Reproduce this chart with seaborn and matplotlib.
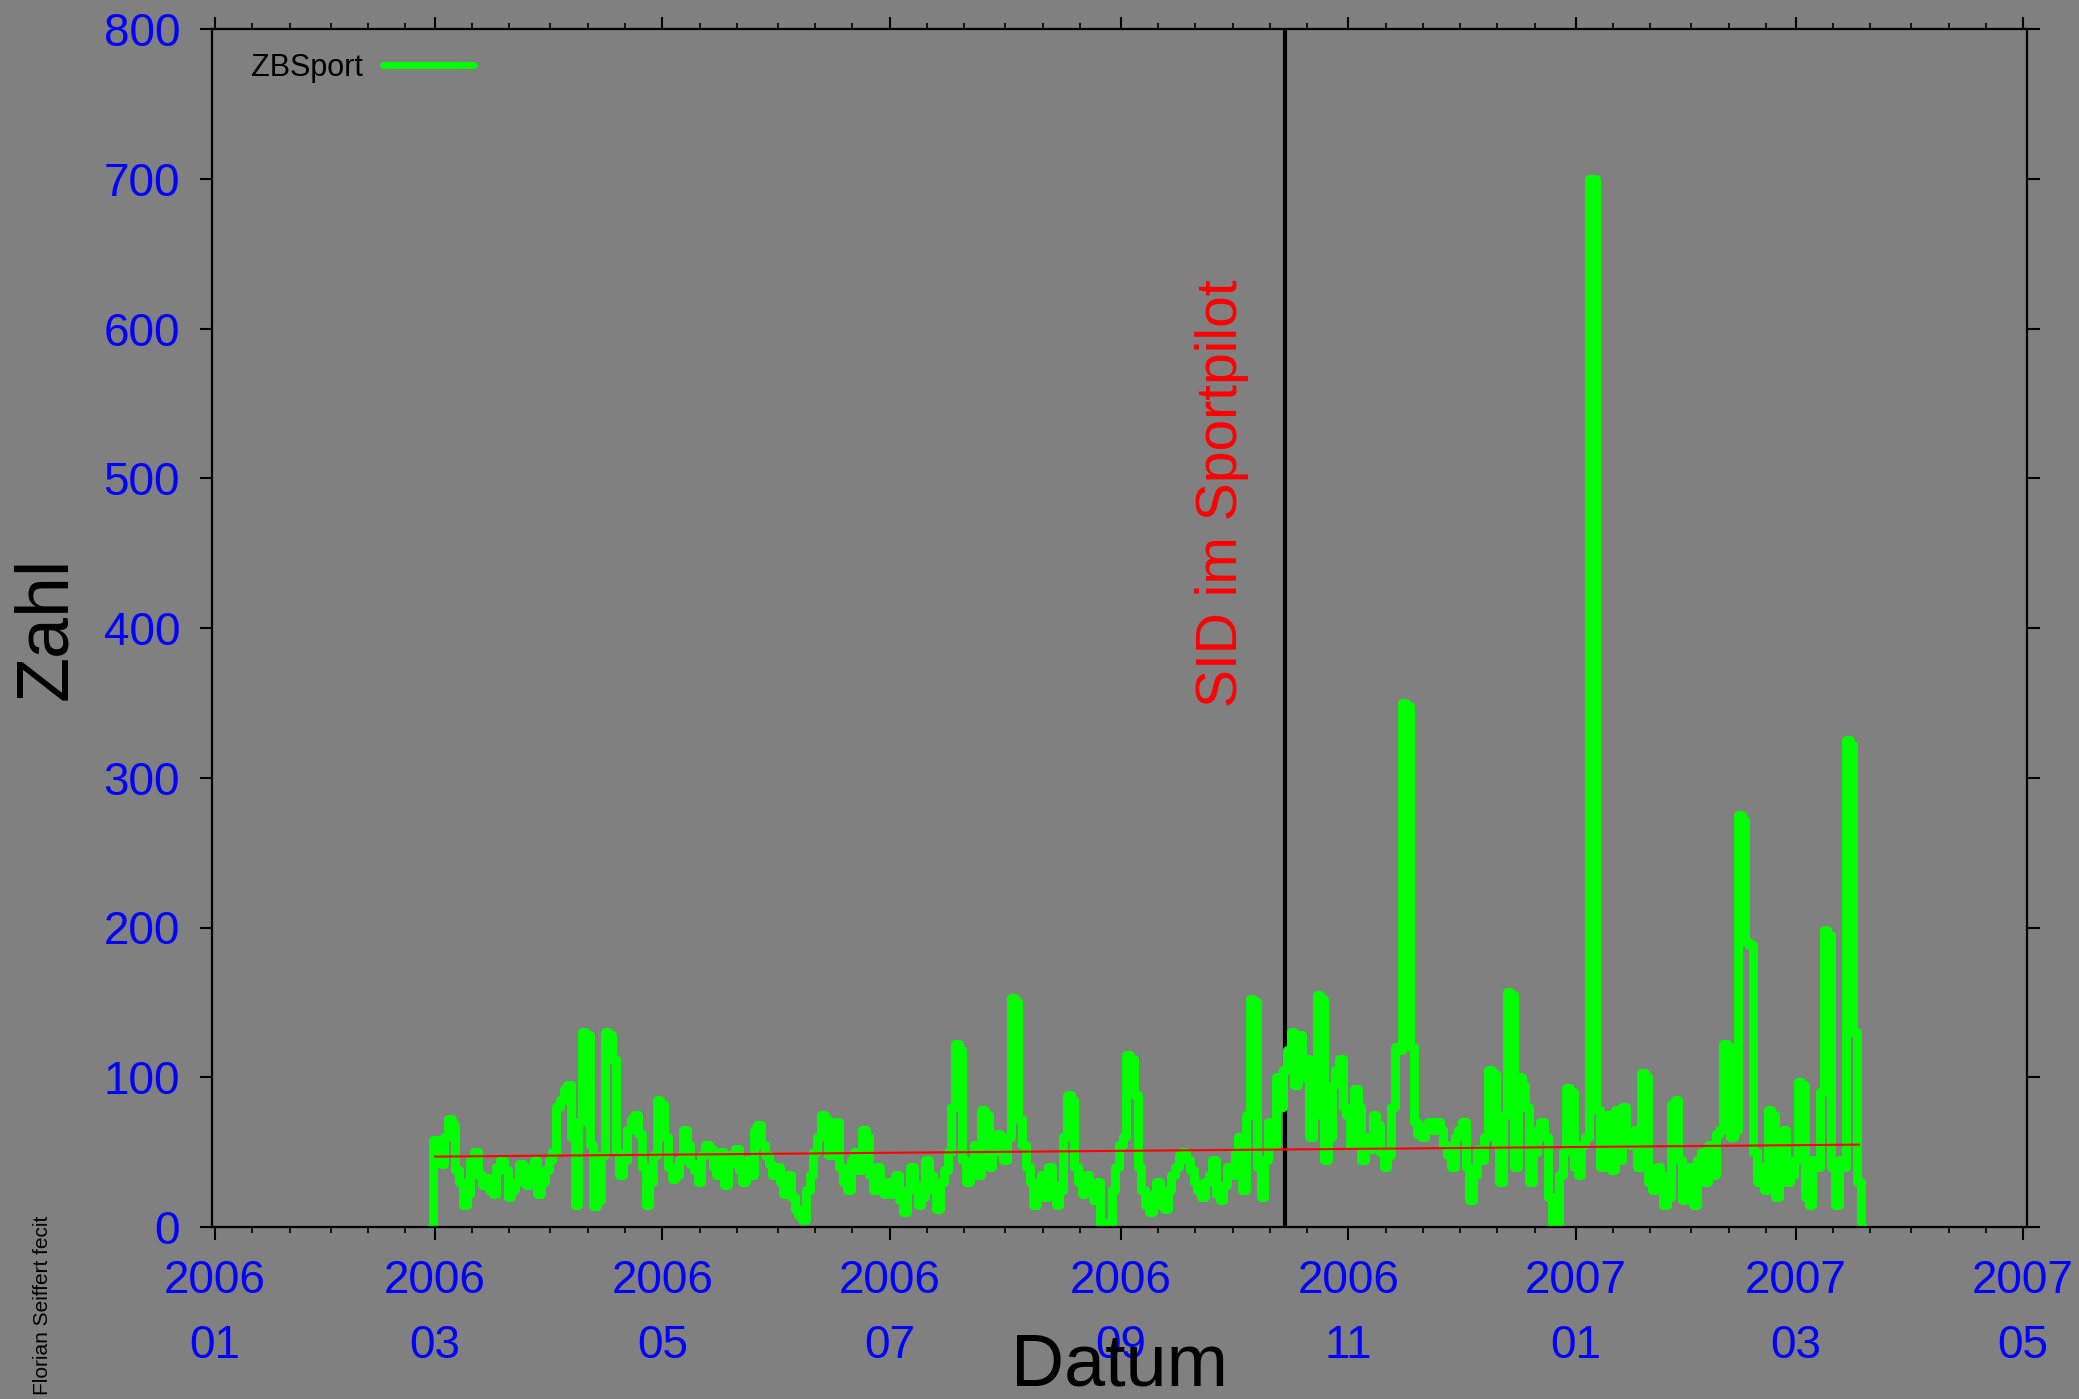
import numpy as np
import pandas as pd
import seaborn as sns
import matplotlib.pyplot as plt
import matplotlib.dates as mdates

# Tageswerte ZBSport, Start 28.02.2006 mit 0
start = '2006-02-28'
vor_start = [0]
mar_06 = [58, 55, 42, 60, 72, 68, 38, 30, 15, 22, 45, 50, 35, 28, 33, 25, 22, 40, 45, 38,
          20, 25, 30, 42, 35, 28, 40, 45, 22, 30, 38]
apr_06 = [45, 50, 80, 85, 92, 95, 60, 15, 70, 130, 128, 55, 14, 18, 48, 130, 128, 112, 50, 35,
          45, 65, 72, 75, 62, 40, 15, 30, 48, 85]
mai_06 = [82, 60, 40, 32, 35, 45, 65, 55, 42, 38, 30, 48, 55, 52, 40, 35, 50, 28, 42, 48,
          52, 38, 30, 45, 35, 65, 68, 55, 48, 42, 35]
jun_06 = [40, 30, 22, 35, 20, 12, 8, 5, 25, 35, 50, 60, 75, 72, 48, 55, 70, 40, 30, 25,
          45, 50, 38, 65, 60, 35, 25, 40, 30, 22]
jul_06 = [30, 22, 35, 18, 10, 25, 40, 28, 15, 20, 45, 35, 25, 12, 30, 38, 50, 80, 122, 118,
          45, 30, 42, 55, 35, 78, 75, 40, 50, 62, 55]
aug_06 = [45, 60, 153, 150, 72, 55, 40, 30, 15, 25, 35, 20, 40, 28, 15, 25, 60, 88, 85, 40,
          30, 22, 35, 28, 18, 30, 3, 2, 3, 25, 40]
sep_06 = [55, 60, 115, 112, 88, 40, 25, 15, 10, 22, 30, 15, 12, 25, 35, 40, 48, 50, 45, 38,
          30, 25, 20, 30, 35, 45, 22, 18, 28, 40]
okt_06 = [35, 50, 60, 25, 75, 152, 150, 40, 20, 45, 70, 55, 100, 80, 105, 118, 130, 95, 128, 100,
          112, 60, 75, 155, 152, 45, 60, 95, 105, 112, 80]
nov_06 = [75, 55, 92, 80, 45, 60, 52, 75, 68, 50, 40, 48, 80, 120, 118, 350, 348, 120, 70, 62,
          60, 68, 70, 65, 70, 65, 55, 48, 40, 60]
dez_06 = [65, 70, 40, 18, 35, 52, 45, 60, 105, 102, 55, 30, 75, 157, 155, 40, 100, 95, 80, 30,
          50, 65, 70, 60, 20, 2, 3, 35, 50, 93, 90]
jan_07 = [40, 35, 55, 60, 700, 700, 78, 40, 72, 75, 38, 78, 45, 80, 60, 55, 65, 40, 103, 100,
          30, 25, 40, 35, 15, 20, 82, 85, 45, 18, 35]
feb_07 = [40, 15, 45, 50, 30, 55, 35, 62, 65, 122, 120, 60, 65, 275, 272, 190, 188, 50, 30, 40,
          25, 78, 75, 20, 40, 65, 30, 35]
mar_07 = [45, 97, 95, 20, 15, 45, 40, 90, 198, 195, 40, 15, 45, 40, 325, 322, 130, 30, 0]

trend_dates = ['2006-03-01', '2007-03-18']
trend_values = [47, 55]

sid_date = '2006-10-15'
sid_text = 'SID im Sportpilot'
y_ticks = [0, 100, 200, 300, 400, 500, 600, 700, 800]

werte = (vor_start + mar_06 + apr_06 + mai_06 + jun_06 + jul_06 + aug_06 + sep_06
         + okt_06 + nov_06 + dez_06 + jan_07 + feb_07 + mar_07)
df = pd.DataFrame({'Datum': pd.date_range(start, periods=len(werte), freq='D'),
                   'Zahl': werte})

sns.set_style('ticks')
plt.rcParams['font.family'] = ['Liberation Sans', 'DejaVu Sans']

grau = '#808080'
fig = plt.figure(figsize=(20.79, 13.99), dpi=100, facecolor=grau)
ax = fig.add_axes([212 / 2079, 1 - 1227 / 1399, 1815 / 2079, 1198 / 1399])
ax.set_facecolor(grau)

ax.axvline(pd.Timestamp(sid_date), color='black', linewidth=3, zorder=1)
sns.lineplot(data=df, x='Datum', y='Zahl', ax=ax, color='#00ff00', linewidth=6.5,
             drawstyle='steps-mid', label='ZBSport', legend=False, zorder=2)
sns.lineplot(x=pd.to_datetime(trend_dates), y=trend_values, ax=ax, color='#ff0000',
             linewidth=1.5, legend=False, zorder=3)

ax.text(pd.Timestamp('2006-09-28'), 490, sid_text, rotation=90, color='#ff0000',
        fontsize=41, ha='center', va='center')

ax.set_xlim(pd.Timestamp('2005-12-31 05:00'), pd.Timestamp('2007-05-02 01:00'))
ax.set_ylim(0, 800)
ax.set_yticks(y_ticks)
ax.xaxis.set_major_locator(mdates.MonthLocator(bymonth=[1, 3, 5, 7, 9, 11]))
ax.xaxis.set_major_formatter(mdates.DateFormatter('%Y\n%m'))
ax.xaxis.set_minor_locator(mdates.DayLocator(bymonthday=[1, 11, 21]))

ax.tick_params(axis='both', which='both', direction='out', top=True, right=True,
               color='black')
ax.tick_params(which='major', length=9, width=1.5, labelsize=33,
               labelcolor='#0000ff', pad=14)
ax.tick_params(which='minor', length=4.5, width=1.2)
ax.tick_params(axis='y', which='minor', left=False, right=False)
for s in ax.spines.values():
    s.set_linewidth(1.6)
    s.set_color('black')

for lbl in ax.get_xticklabels():
    lbl.set_linespacing(1.63)

ax.set_xlabel('Datum', fontsize=53, color='black')
ax.xaxis.set_label_coords(0.5, -0.087)
ax.set_ylabel('Zahl', fontsize=53, color='black')
ax.yaxis.set_label_coords(-0.072, 0.5)

leg = ax.legend(loc='upper left', bbox_to_anchor=(0.0215, 0.980), frameon=False,
                fontsize=22, labelcolor='black', markerfirst=False, handlelength=3.0,
                handletextpad=0.65, borderpad=0, borderaxespad=0)
leg.get_lines()[0].set_linewidth(5)

fig.text(42 / 2079, 4 / 1399, 'Florian Seiffert fecit', rotation=90, fontsize=15,
         ha='center', va='bottom', color='black')

fig.savefig('out.png', dpi=100, facecolor=fig.get_facecolor())
